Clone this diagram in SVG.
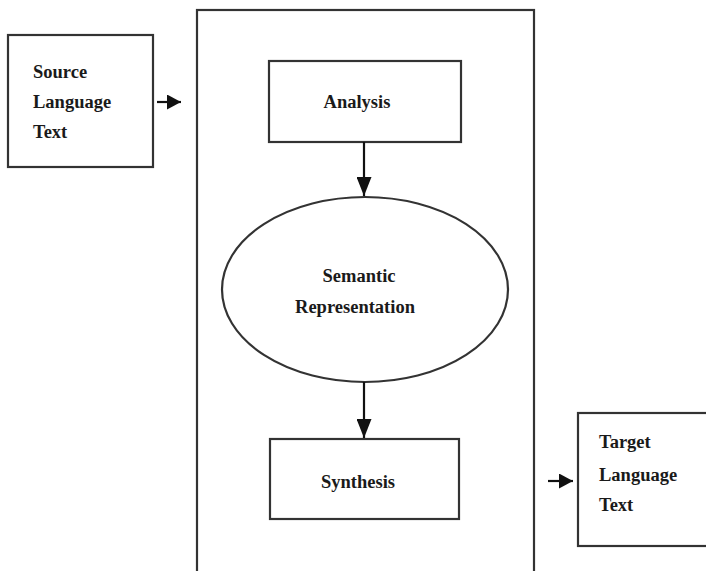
<svg xmlns="http://www.w3.org/2000/svg" width="706" height="571" viewBox="0 0 706 571">
<style>
.box{fill:#fff;stroke:#333;stroke-width:2.2}
.t{font-family:"Liberation Serif","Times New Roman",serif;font-weight:bold;font-size:18.5px;fill:#1a1a1a}
.c{text-anchor:middle}
.conn{stroke:#111;stroke-width:2.2;fill:none}
</style>
<defs>
<marker id="ah" markerWidth="14" markerHeight="15" refX="14" refY="7.5" orient="auto" markerUnits="userSpaceOnUse" viewBox="0 0 14 15">
<path d="M0,0 L14,7.5 L0,15 Z" fill="#111"/>
</marker>
<marker id="av" markerWidth="19" markerHeight="15" refX="19" refY="7.5" orient="auto" markerUnits="userSpaceOnUse" viewBox="0 0 19 15">
<path d="M0,0 L19,7.5 L0,15 Z" fill="#111"/>
</marker>
</defs>
<rect width="706" height="571" fill="#fff"/>
<g id="system">
<rect class="box" x="197" y="10" width="337" height="600"/>
</g>
<g id="source">
<rect class="box" x="8" y="35" width="145" height="132"/>
<text class="t" x="33" y="78">Source</text>
<text class="t" x="33" y="108">Language</text>
<text class="t" x="33" y="138">Text</text>
</g>
<g id="analysis">
<rect class="box" x="269" y="61" width="192" height="81"/>
<text class="t c" x="357" y="108">Analysis</text>
</g>
<g id="semantic">
<ellipse class="box" cx="365" cy="289.5" rx="143" ry="92.5"/>
<text class="t c" x="359" y="282">Semantic</text>
<text class="t c" x="355" y="313">Representation</text>
</g>
<g id="synthesis">
<rect class="box" x="270" y="439" width="189" height="80"/>
<text class="t c" x="358" y="488">Synthesis</text>
</g>
<g id="target">
<rect class="box" x="578" y="413" width="140" height="133"/>
<text class="t" x="599" y="448">Target</text>
<text class="t" x="599" y="481">Language</text>
<text class="t" x="599" y="511">Text</text>
</g>
<g id="connectors">
<line class="conn" x1="157" y1="102" x2="181" y2="102" marker-end="url(#ah)"/>
<line class="conn" x1="364" y1="142" x2="364" y2="196" marker-end="url(#av)"/>
<line class="conn" x1="364" y1="382" x2="364" y2="438" marker-end="url(#av)"/>
<line class="conn" x1="548" y1="481" x2="573" y2="481" marker-end="url(#ah)"/>
</g>
</svg>
